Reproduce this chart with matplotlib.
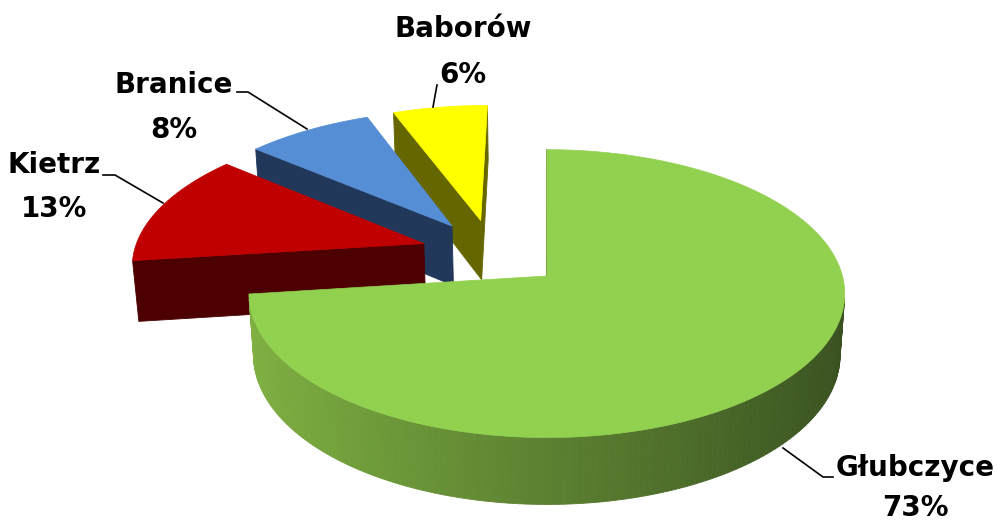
import numpy as np
import matplotlib
matplotlib.use("Agg")
import matplotlib.pyplot as plt
from matplotlib.patches import Polygon

# data
labels = ['Głubczyce', 'Kietrz', 'Branice', 'Baborów']
shares = [73, 13, 8, 6]
top_colors = ['#92D050', '#C00000', '#558ED5', '#FFFF00']
side_colors = ['#3C5323', '#4D0000', '#22385A', '#666600']

# 3d view settings (radius = 1)
explode = 0.25
depth = 0.24
sph = 0.47
cph = np.sqrt(1 - sph**2)
L = 7.35
f = 2130.0
cx, cy = 545.0, 253.0

start = 90.0
ang = []
cum = 0
for s in shares:
    a1 = start - cum * 3.6
    a0 = a1 - s * 3.6
    ang.append((a0, a1))
    cum += s

mid0 = np.radians((ang[0][0] + ang[0][1]) / 2)
camx = explode * np.cos(mid0) - 0.006
cam = np.array([camx, -L * cph, L * sph])


def proj(p):
    x, y, z = p[..., 0], p[..., 1], p[..., 2]
    D = L + y * cph - z * sph
    Y = y * sph + z * cph
    return np.stack([cx + f * (x - camx) / D, cy - f * Y / D], axis=-1)


def rim(o, t, z):
    return np.array([o[0] + np.cos(t), o[1] + np.sin(t), z])


def visible(n, p):
    return np.dot(n, cam - p) > 0


fig = plt.figure(figsize=(9.97, 5.24), dpi=100)
ax = fig.add_axes([0, 0, 1, 1])
ax.set_xlim(0, 997)
ax.set_ylim(524, 0)
ax.axis('off')

light_green = np.array([128, 178, 66]) / 255
dark_green = np.array([56, 80, 32]) / 255

# far slices first
order = []
for i, (a0, a1) in enumerate(ang):
    m = np.radians((a0 + a1) / 2)
    o = np.array([explode * np.cos(m), explode * np.sin(m), 0])
    order.append((o[1], i, o))
order.sort(reverse=True)

for _, i, o in order:
    a0, a1 = np.radians(ang[i][0]), np.radians(ang[i][1])
    ts = np.linspace(a0, a1, 240)
    # outer side
    strips = []
    for k in range(len(ts) - 1):
        t0, t1 = ts[k], ts[k + 1]
        tm = (t0 + t1) / 2
        n = np.array([np.cos(tm), np.sin(tm), 0])
        pm = rim(o, tm, -depth / 2)
        if not visible(n, pm):
            continue
        quad = np.array([rim(o, t0, 0), rim(o, t1, 0), rim(o, t1, -depth), rim(o, t0, -depth)])
        if i == 0:
            s = (np.cos(tm) + 1) / 2
            col = light_green + (dark_green - light_green) * s
        else:
            col = side_colors[i]
        dd = np.dot(pm - cam, pm - cam)
        strips.append((dd, quad, col))
    strips.sort(key=lambda q: -q[0])
    for _, quad, col in strips:
        ax.add_patch(Polygon(proj(quad), closed=True, fc=col, ec=col, lw=0.6))
    # radial faces
    for a, sgn in ((a0, -1), (a1, 1)):
        n = np.array([np.cos(a + sgn * np.pi / 2), np.sin(a + sgn * np.pi / 2), 0])
        quad = np.array([[o[0], o[1], 0], rim(o, a, 0), rim(o, a, -depth), [o[0], o[1], -depth]])
        if visible(n, quad.mean(axis=0)):
            ax.add_patch(Polygon(proj(quad), closed=True, fc=side_colors[i],
                                 ec=side_colors[i], lw=0.6))
    # top
    top = [np.array([o[0], o[1], 0])] + [rim(o, t, 0) for t in ts]
    ax.add_patch(Polygon(proj(np.array(top)), closed=True, fc=top_colors[i],
                         ec=top_colors[i], lw=0.5))

# labels
font = dict(family='DejaVu Sans', weight='bold', fontsize=20, ha='center', va='baseline')
label_pos = [(915, 476, 516), (54, 173, 217), (174, 93, 138), (463, 37, 83)]
for i, (x, y1, y2) in enumerate(label_pos):
    ax.text(x, y1, labels[i], **font)
    ax.text(x, y2, f"{shares[i]}%", **font)

leaders = [
    [(783, 448), (823, 477), (833, 477)],
    [(163, 203), (115, 175), (103, 175)],
    [(307, 129), (248, 92), (237, 92)],
    [(433, 107), (437, 85)],
]
for pts in leaders:
    xs, ys = zip(*pts)
    ax.plot(xs, ys, color='black', lw=1.2)

fig.savefig('out.png', dpi=100)
